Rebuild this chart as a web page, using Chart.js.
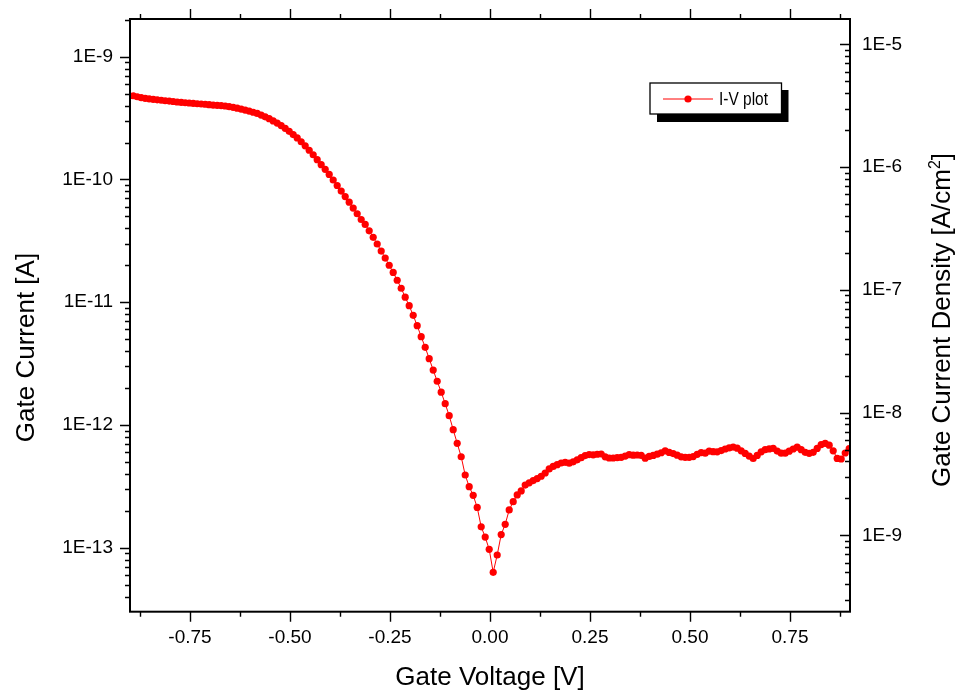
<!DOCTYPE html>
<html>
<head>
<meta charset="utf-8">
<script src="https://cdn.jsdelivr.net/npm/chart.js@4.4.1/dist/chart.umd.min.js"></script>
<style>
  html, body { margin: 0; padding: 0; background: #fff; }
  #wrap { width: 961px; height: 691px; }
</style>
</head>
<body>
<div id="wrap"><canvas id="ivChart" width="961" height="691"></canvas></div>
<script>
/* Gate voltage sweep [V] */
const voltage = [
  -0.892, -0.882, -0.872, -0.862, -0.852, -0.842, -0.832, -0.822, -0.812, -0.802,
  -0.792, -0.782, -0.772, -0.762, -0.752, -0.742, -0.732, -0.722, -0.712, -0.702,
  -0.692, -0.682, -0.672, -0.662, -0.652, -0.642, -0.632, -0.622, -0.612, -0.602,
  -0.592, -0.582, -0.572, -0.562, -0.552, -0.542, -0.532, -0.522, -0.512, -0.502,
  -0.492, -0.482, -0.472, -0.462, -0.452, -0.442, -0.432, -0.422, -0.412, -0.402,
  -0.392, -0.382, -0.372, -0.362, -0.352, -0.342, -0.332, -0.322, -0.312, -0.302,
  -0.292, -0.282, -0.272, -0.262, -0.252, -0.242, -0.232, -0.222, -0.212, -0.202,
  -0.192, -0.182, -0.172, -0.162, -0.152, -0.142, -0.132, -0.122, -0.112, -0.102,
  -0.092, -0.082, -0.072, -0.062, -0.052, -0.042, -0.032, -0.022, -0.012, -0.002,
  0.008, 0.018, 0.028, 0.038, 0.048, 0.058, 0.068, 0.078, 0.088, 0.098,
  0.108, 0.118, 0.128, 0.138, 0.148, 0.158, 0.168, 0.178, 0.188, 0.198,
  0.208, 0.218, 0.228, 0.238, 0.248, 0.258, 0.268, 0.278, 0.288, 0.298,
  0.308, 0.318, 0.328, 0.338, 0.348, 0.358, 0.368, 0.378, 0.388, 0.398,
  0.408, 0.418, 0.428, 0.438, 0.448, 0.458, 0.468, 0.478, 0.488, 0.498,
  0.508, 0.518, 0.528, 0.538, 0.548, 0.558, 0.568, 0.578, 0.588, 0.598,
  0.608, 0.618, 0.628, 0.638, 0.648, 0.658, 0.668, 0.678, 0.688, 0.698,
  0.708, 0.718, 0.728, 0.738, 0.748, 0.758, 0.768, 0.778, 0.788, 0.798,
  0.808, 0.818, 0.828, 0.838, 0.848, 0.858, 0.868, 0.878, 0.888, 0.898
];

/* Gate current [A] */
const gateCurrent = [
  4.81e-10, 4.72e-10, 4.64e-10, 4.58e-10, 4.54e-10, 4.50e-10, 4.46e-10, 4.42e-10, 4.38e-10, 4.35e-10,
  4.32e-10, 4.28e-10, 4.25e-10, 4.22e-10, 4.20e-10, 4.17e-10, 4.14e-10, 4.12e-10, 4.10e-10, 4.07e-10,
  4.04e-10, 4.02e-10, 4.00e-10, 3.97e-10, 3.92e-10, 3.87e-10, 3.81e-10, 3.75e-10, 3.68e-10, 3.61e-10,
  3.53e-10, 3.45e-10, 3.35e-10, 3.24e-10, 3.13e-10, 3.00e-10, 2.88e-10, 2.75e-10, 2.61e-10, 2.47e-10,
  2.32e-10, 2.18e-10, 2.03e-10, 1.88e-10, 1.73e-10, 1.59e-10, 1.45e-10, 1.32e-10, 1.21e-10, 1.10e-10,
  9.90e-11, 8.93e-11, 8.05e-11, 7.26e-11, 6.53e-11, 5.85e-11, 5.26e-11, 4.72e-11, 4.30e-11, 3.82e-11,
  3.38e-11, 2.98e-11, 2.61e-11, 2.29e-11, 2.00e-11, 1.75e-11, 1.51e-11, 1.30e-11, 1.10e-11, 9.37e-12,
  7.82e-12, 6.44e-12, 5.24e-12, 4.29e-12, 3.47e-12, 2.80e-12, 2.27e-12, 1.85e-12, 1.49e-12, 1.19e-12,
  9.15e-13, 7.09e-13, 5.51e-13, 3.91e-13, 3.14e-13, 2.67e-13, 2.13e-13, 1.48e-13, 1.22e-13, 9.70e-14,
  6.30e-14, 8.72e-14, 1.28e-13, 1.55e-13, 2.03e-13, 2.37e-13, 2.69e-13, 2.90e-13, 3.24e-13, 3.38e-13,
  3.52e-13, 3.66e-13, 3.82e-13, 4.06e-13, 4.38e-13, 4.59e-13, 4.75e-13, 4.90e-13, 4.96e-13, 4.88e-13,
  5.01e-13, 5.20e-13, 5.41e-13, 5.63e-13, 5.74e-13, 5.71e-13, 5.77e-13, 5.80e-13, 5.50e-13, 5.38e-13,
  5.38e-13, 5.41e-13, 5.45e-13, 5.58e-13, 5.73e-13, 5.67e-13, 5.69e-13, 5.66e-13, 5.36e-13, 5.54e-13,
  5.65e-13, 5.78e-13, 5.94e-13, 6.16e-13, 5.97e-13, 5.85e-13, 5.67e-13, 5.50e-13, 5.45e-13, 5.45e-13,
  5.53e-13, 5.76e-13, 5.96e-13, 5.89e-13, 6.12e-13, 6.06e-13, 6.04e-13, 6.19e-13, 6.37e-13, 6.50e-13,
  6.61e-13, 6.47e-13, 6.16e-13, 5.86e-13, 5.58e-13, 5.33e-13, 5.65e-13, 6.04e-13, 6.30e-13, 6.38e-13,
  6.45e-13, 6.13e-13, 5.89e-13, 5.89e-13, 6.11e-13, 6.37e-13, 6.59e-13, 6.29e-13, 5.99e-13, 5.87e-13,
  5.99e-13, 6.44e-13, 6.92e-13, 7.07e-13, 6.84e-13, 6.16e-13, 5.34e-13, 5.28e-13, 5.91e-13, 6.43e-13
];

/* Axis ticks */
const xTicks = [-0.75, -0.5, -0.25, 0, 0.25, 0.5, 0.75];
const xRange = [-0.9, 0.9];
const currentDecades = [1e-13, 1e-12, 1e-11, 1e-10, 1e-9];
const densityDecades = [1e-9, 1e-8, 1e-7, 1e-6, 1e-5];
const currentRange = [3.01e-14, 2.03e-9];
const gateArea = 1.261e-4; // cm^2, links the current axis to the density axis

const FONT = "'Liberation Sans', Arial, sans-serif";
const RED = 'rgb(255, 0, 0)';

const decadeLabel = function(v) {
    return '1E' + Math.round(Math.log10(v));
}

// minor log ticks (2..9 in every decade) inside the range
const logMinors = function(min, max) {
    const out = [];
    for (let e = Math.floor(Math.log10(min)); e <= Math.ceil(Math.log10(max)); e++) {
        for (let m = 2; m <= 9; m++) {
            const v = m * Math.pow(10, e);
            if (v >= min && v <= max) out.push(v);
        }
    }
    return out;
}

// fixed axis sizes so the plot box sits where the original has it
const fixSize = function(w, h) {
    return function(s) {
        if (w) s.width = w;
        if (h) s.height = h;
        s.paddingTop = 0; s.paddingBottom = 0;
        s.paddingLeft = 0; s.paddingRight = 0;
    }
}

/* Frame, tick marks, titles and legend box */
const originDecor = {
    id: 'originDecor',
    afterDraw(chart) {
        const { ctx, chartArea: a, scales } = chart;
        const x = scales.x, y = scales.y, y2 = scales.y2;
        ctx.save();
        ctx.strokeStyle = '#000';
        ctx.lineWidth = 1.4;
        ctx.beginPath();
        // bottom and top: ticks point outward
        const xMinor = xTicks.map(v => v - 0.125).concat([xTicks[xTicks.length - 1] + 0.125]);
        xTicks.forEach(v => {
            const px = Math.round(x.getPixelForValue(v)) + 0.5;
            ctx.moveTo(px, a.bottom); ctx.lineTo(px, a.bottom + 10);
            ctx.moveTo(px, a.top); ctx.lineTo(px, a.top - 10);
        });
        xMinor.forEach(v => {
            const px = Math.round(x.getPixelForValue(v)) + 0.5;
            ctx.moveTo(px, a.bottom); ctx.lineTo(px, a.bottom + 5);
            ctx.moveTo(px, a.top); ctx.lineTo(px, a.top - 5);
        });
        // left axis: outward
        currentDecades.forEach(v => {
            const py = Math.round(y.getPixelForValue(v)) + 0.5;
            ctx.moveTo(a.left, py); ctx.lineTo(a.left - 10, py);
        });
        logMinors(y.min, y.max).forEach(v => {
            const py = Math.round(y.getPixelForValue(v)) + 0.5;
            ctx.moveTo(a.left, py); ctx.lineTo(a.left - 5, py);
        });
        // right axis: inward
        densityDecades.forEach(v => {
            const py = Math.round(y2.getPixelForValue(v)) + 0.5;
            ctx.moveTo(a.right, py); ctx.lineTo(a.right - 10, py);
        });
        logMinors(y2.min, y2.max).forEach(v => {
            const py = Math.round(y2.getPixelForValue(v)) + 0.5;
            ctx.moveTo(a.right, py); ctx.lineTo(a.right - 5, py);
        });
        ctx.stroke();

        ctx.lineWidth = 2;
        ctx.strokeRect(a.left, a.top, a.right - a.left, a.bottom - a.top);

        // axis titles
        ctx.fillStyle = '#000';
        ctx.font = '26px ' + FONT;
        ctx.textAlign = 'center';
        ctx.textBaseline = 'alphabetic';
        ctx.fillText('Gate Voltage [V]', (a.left + a.right) / 2, 685);

        ctx.save();
        ctx.translate(33.5, 347.5);
        ctx.rotate(-Math.PI / 2);
        ctx.fillText('Gate Current [A]', 0, 0);
        ctx.restore();

        // right title with superscript 2
        const partA = 'Gate Current Density [A/cm', sup = '2', partB = ']';
        ctx.save();
        ctx.translate(950, 320);
        ctx.rotate(-Math.PI / 2);
        ctx.textAlign = 'left';
        ctx.font = '26px ' + FONT;
        const wA = ctx.measureText(partA).width, wB = ctx.measureText(partB).width;
        ctx.font = '16px ' + FONT;
        const wS = ctx.measureText(sup).width;
        let cx = -(wA + wS + wB) / 2;
        ctx.font = '26px ' + FONT;
        ctx.fillText(partA, cx, 0);
        cx += wA;
        ctx.font = '16px ' + FONT;
        ctx.fillText(sup, cx, -10);
        cx += wS;
        ctx.font = '26px ' + FONT;
        ctx.fillText(partB, cx, 0);
        ctx.restore();

        // legend with drop shadow
        const lx = 650, ly = 83, lw = 131.5, lh = 31;
        ctx.fillStyle = '#000';
        ctx.fillRect(lx + 7, ly + 7, lw, lh + 1);
        ctx.fillStyle = '#fff';
        ctx.fillRect(lx, ly, lw, lh);
        ctx.lineWidth = 1.3;
        ctx.strokeStyle = '#000';
        ctx.strokeRect(lx, ly, lw, lh);
        const my = ly + 16;
        ctx.strokeStyle = RED;
        ctx.lineWidth = 1;
        ctx.beginPath();
        ctx.moveTo(663, my); ctx.lineTo(713, my);
        ctx.stroke();
        ctx.fillStyle = RED;
        ctx.beginPath();
        ctx.arc(688, my, 3.6, 0, Math.PI * 2);
        ctx.fill();
        ctx.fillStyle = '#000';
        ctx.font = '18px ' + FONT;
        ctx.textAlign = 'left';
        ctx.fillText(chart.data.datasets[0].label, 719, 105, 49);
        ctx.restore();
    }
}

const ctx = document.getElementById('ivChart');
new Chart(ctx, {
    type: 'line',
    data: {
        datasets: [{
            label: 'I-V plot',
            data: voltage.map((v, i) => ({ x: v, y: gateCurrent[i] })),
            borderColor: RED,
            backgroundColor: RED,
            borderWidth: 1,
            pointRadius: 3.6,
            pointBorderWidth: 0,
            pointBackgroundColor: RED,
            tension: 0,
            yAxisID: 'y'
        }]
    },
    options: {
        responsive: false,
        maintainAspectRatio: false,
        animation: false,
        layout: { padding: { top: 19, left: 0, right: 0, bottom: 0 } },
        plugins: {
            legend: { display: false },
            tooltip: { enabled: false }
        },
        scales: {
            x: {
                type: 'linear',
                min: xRange[0],
                max: xRange[1],
                grid: { display: false, drawTicks: false },
                border: { display: false },
                afterBuildTicks: s => { s.ticks = xTicks.map(v => ({ value: v })); },
                afterFit: fixSize(0, 79.3),
                ticks: {
                    padding: 15,
                    color: '#000',
                    font: { family: FONT, size: 19 },
                    callback: v => Number(v).toFixed(2)
                }
            },
            y: {
                type: 'logarithmic',
                position: 'left',
                min: currentRange[0],
                max: currentRange[1],
                grid: { display: false, drawTicks: false },
                border: { display: false },
                afterBuildTicks: s => { s.ticks = currentDecades.map(v => ({ value: v })); },
                afterFit: fixSize(130, 0),
                ticks: {
                    padding: 17,
                    color: '#000',
                    font: { family: FONT, size: 19 },
                    callback: v => decadeLabel(v)
                }
            },
            y2: {
                type: 'logarithmic',
                position: 'right',
                min: currentRange[0] / gateArea,
                max: currentRange[1] / gateArea,
                grid: { display: false, drawTicks: false },
                border: { display: false },
                afterBuildTicks: s => { s.ticks = densityDecades.map(v => ({ value: v })); },
                afterFit: fixSize(111, 0),
                ticks: {
                    padding: 12,
                    color: '#000',
                    font: { family: FONT, size: 19 },
                    callback: v => decadeLabel(v)
                }
            }
        }
    },
    plugins: [originDecor]
});
</script>
</body>
</html>
